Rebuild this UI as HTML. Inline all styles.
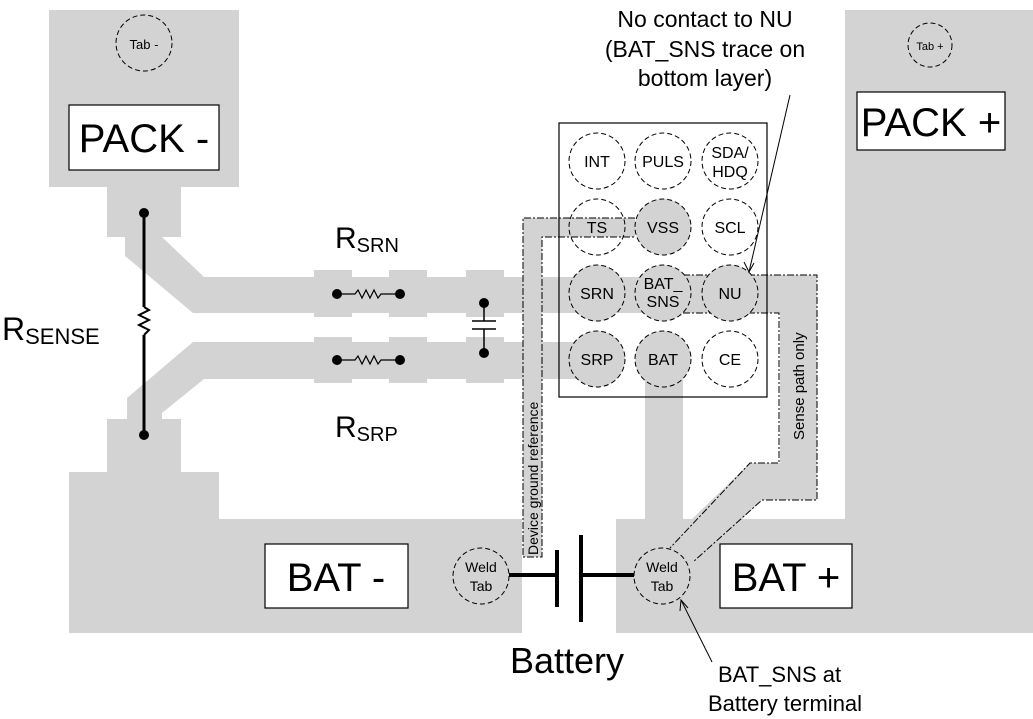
<!DOCTYPE html>
<html><head><meta charset="utf-8"><style>
body{margin:0;background:#fff}
svg{display:block}
text{font-family:"Liberation Sans",sans-serif;fill:#000}
</style></head><body>
<svg width="1033" height="719" viewBox="0 0 1033 719" xmlns="http://www.w3.org/2000/svg">
<g fill="#d3d3d3">
<!-- PACK- -->
<rect x="49" y="10" width="190" height="177"/>
<rect x="107" y="187" width="74" height="50"/>
<polygon points="125,237 162,237 204,277 193,313 125,256"/>
<polygon points="193,342 204,379 162,413 162,420 127,420 127,398"/>
<rect x="107" y="419" width="74" height="54"/>
<rect x="69" y="472" width="150" height="48"/>
<rect x="69" y="519" width="453" height="114"/>
<!-- traces -->
<rect x="193" y="277" width="624" height="36"/>
<rect x="193" y="342" width="407" height="37"/>
<rect x="314" y="270" width="38" height="47"/><rect x="389" y="270" width="38" height="47"/><rect x="466" y="270" width="38" height="47"/>
<rect x="314" y="337" width="38" height="46"/><rect x="389" y="337" width="38" height="46"/><rect x="466" y="337" width="38" height="46"/>
<!-- ground ref trace -->
<rect x="523" y="218" width="112" height="19"/>
<rect x="523" y="218" width="19" height="339"/>
<!-- BAT trace -->
<rect x="645" y="359" width="38" height="162"/>
<!-- sense trace -->
<polygon points="683,275 817,275 817,500 762,500 693,565 662,575 662,548 750,463 780,463 780,313 683,313"/>
<!-- PACK+ -->
<rect x="845" y="10" width="188" height="510"/>
<rect x="616" y="519" width="417" height="114"/>
</g>
<!-- dash-dot outlines -->
<g fill="none" stroke="#000" stroke-width="1" stroke-dasharray="7,2,2,2">
<polyline points="635,218 523,218 523,557 542,557 542,237 635,237"/>
<polyline points="683,275 817,275 817,500 762,500 693,562"/>
<polyline points="683,313 779,313 779,463 750,463 670,548"/>
</g>
<!-- chip -->
<rect x="559" y="123" width="208" height="274" fill="none" stroke="#000" stroke-width="1.2"/>
<g stroke="#000" stroke-width="1" stroke-dasharray="5,3">
<circle cx="597" cy="161" r="28" fill="#fff"/><circle cx="663" cy="161" r="28" fill="#fff"/><circle cx="730" cy="161" r="28" fill="#fff"/>
<circle cx="597" cy="227" r="28" fill="none"/><circle cx="663" cy="227" r="28" fill="#d3d3d3"/><circle cx="730" cy="227" r="28" fill="#fff"/>
<circle cx="597" cy="293" r="28" fill="#d3d3d3"/><circle cx="663" cy="293" r="28" fill="#d3d3d3"/><circle cx="730" cy="293" r="28" fill="#d3d3d3"/>
<circle cx="597" cy="359" r="28" fill="#d3d3d3"/><circle cx="663" cy="359" r="28" fill="#d3d3d3"/><circle cx="730" cy="359" r="28" fill="#fff"/>
<circle cx="144" cy="43" r="28" fill="none"/>
<circle cx="930" cy="45" r="22" fill="none"/>
<circle cx="481" cy="576" r="28" fill="none"/>
<circle cx="662" cy="576" r="28" fill="none"/>
</g>
<g font-size="16" text-anchor="middle">
<text x="597" y="167">INT</text><text x="663" y="167">PULS</text><text x="730" y="158">SDA/</text><text x="730" y="177">HDQ</text>
<text x="597" y="233">TS</text><text x="663" y="233">VSS</text><text x="730" y="233">SCL</text>
<text x="597" y="299">SRN</text><text x="663" y="289">BAT_</text><text x="663" y="307">SNS</text><text x="730" y="299">NU</text>
<text x="597" y="365">SRP</text><text x="663" y="365">BAT</text><text x="730" y="365">CE</text>
<text x="144" y="49" font-size="13">Tab -</text>
<text x="930" y="50" font-size="11">Tab +</text>
<text x="481" y="572" font-size="14">Weld</text><text x="481" y="591" font-size="14">Tab</text>
<text x="662" y="572" font-size="14">Weld</text><text x="662" y="591" font-size="14">Tab</text>
</g>
<!-- label boxes -->
<g fill="#fff" stroke="#000" stroke-width="1.2">
<rect x="69" y="105" width="150" height="65"/>
<rect x="857" y="92" width="148" height="58"/>
<rect x="265" y="544" width="143" height="64"/>
<rect x="720" y="544" width="132" height="64"/>
</g>
<g font-size="40" text-anchor="middle">
<text x="144" y="152">PACK -</text>
<text x="931" y="136">PACK +</text>
<text x="336" y="591">BAT -</text>
<text x="786" y="591">BAT +</text>
</g>
<!-- RSENSE -->
<g stroke="#000" stroke-width="3" fill="none">
<line x1="144" y1="213" x2="144" y2="307"/>
<polyline points="144,307 149,310 139,315 149,320 139,325 149,330 144,335" stroke-width="2"/>
<line x1="144" y1="335" x2="144" y2="435"/>
</g>
<circle cx="144" cy="213" r="5"/><circle cx="144" cy="435" r="5"/>
<text x="2" y="340" font-size="32">R<tspan font-size="22" dy="4">SENSE</tspan></text>
<!-- small resistors -->
<g stroke="#000" stroke-width="1.2" fill="none">
<polyline points="337,294 355,294 358,290 362,298 366,290 370,298 374,290 378,298 381,294 400,294"/>
<polyline points="337,360 355,360 358,356 362,364 366,356 370,364 374,356 378,364 381,360 400,360"/>
<line x1="484" y1="303" x2="484" y2="321" stroke-width="1.5"/><line x1="484" y1="329" x2="484" y2="353" stroke-width="1.5"/>
<line x1="472" y1="321" x2="496" y2="321" stroke-width="1.5"/><line x1="472" y1="329" x2="496" y2="329" stroke-width="1.5"/>
</g>
<circle cx="337" cy="294" r="5"/><circle cx="400" cy="294" r="5"/><circle cx="337" cy="360" r="5"/><circle cx="400" cy="360" r="5"/>
<circle cx="484" cy="303" r="5"/><circle cx="484" cy="353" r="5"/>
<text x="335" y="248" font-size="30">R<tspan font-size="20" dy="4">SRN</tspan></text>
<text x="335" y="437" font-size="30">R<tspan font-size="20" dy="4">SRP</tspan></text>
<!-- battery -->
<g stroke="#000" stroke-width="4">
<line x1="509" y1="575" x2="557" y2="575"/><line x1="557" y1="550" x2="557" y2="607"/>
<line x1="581" y1="535" x2="581" y2="622"/><line x1="581" y1="575" x2="634" y2="575"/>
</g>
<text x="510" y="673" font-size="36">Battery</text>
<!-- rotated labels -->
<text transform="translate(538,555) rotate(-90)" font-size="14">Device ground reference</text>
<text transform="translate(804,440) rotate(-90)" font-size="15">Sense path only</text>
<!-- notes -->
<g font-size="23" text-anchor="middle">
<text x="705" y="27">No contact to NU</text>
<text x="705" y="57">(BAT_SNS trace on</text>
<text x="705" y="86">bottom layer)</text>
</g>
<g font-size="22">
<text x="718" y="682">BAT_SNS at</text>
<text x="708" y="711">Battery terminal</text>
</g>
<g stroke="#000" stroke-width="1" fill="none">
<line x1="790" y1="95" x2="749" y2="272"/>
<polyline points="744,262 749,272 754,263"/>
<line x1="712" y1="662" x2="681" y2="600"/>
<polyline points="680,611 681,600 688,608"/>
</g>
</svg>
</body></html>
